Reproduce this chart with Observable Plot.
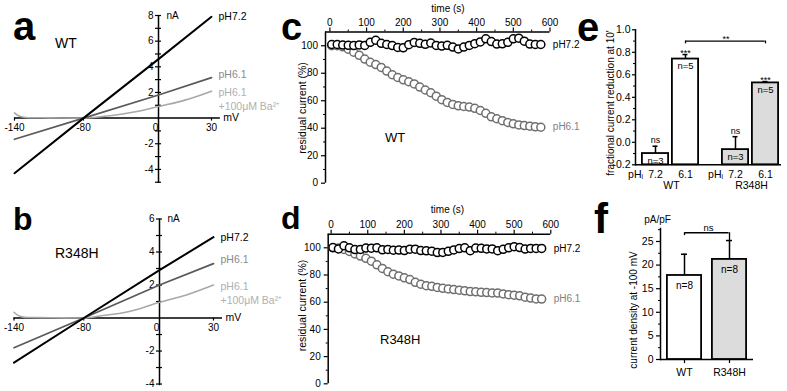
<!DOCTYPE html>
<html><head><meta charset="utf-8">
<script src="https://cdn.jsdelivr.net/npm/d3@7"></script>
<script src="https://cdn.jsdelivr.net/npm/@observablehq/plot@0.6"></script>
<style>
html,body{margin:0;padding:0;background:#fff;}
#fig{position:relative;width:787px;height:391px;overflow:hidden;background:#fff;font-family:'Liberation Sans',Arial,sans-serif;}
#fig svg{position:absolute;overflow:visible;background:transparent;max-width:none;}
</style></head><body><div id="fig"></div>
<script>
// ================= DATA =================
// Panels a / b : I-V relations (mV, nA)
const ivVoltage = [-140, -80, 0, 30];
const ivBaVoltage = [-140, -137, -133, -128, -110, -80, -60, -40, -20, 0, 15, 30];
const wtIV_pH72 = [-4.3, 0, 4.6, 7.9];
const wtIV_pH61 = [-1.65, 0, 1.8, 3.15];
const wtIV_Ba = [0.4, 0.2, 0.08, 0.03, 0.02, 0, 0.12, 0.3, 0.55, 0.9, 1.4, 2.1];
const r348hIV_pH72 = [-2.7, 0, 2.9, 4.9];
const r348hIV_pH61 = [-1.8, 0, 2.0, 3.3];
const r348hIV_Ba = [0.35, 0.18, 0.07, 0.03, 0.02, 0, 0.15, 0.3, 0.58, 0.95, 1.4, 2.0];
const ivXTickLabels = [-140, -80, 0, 30];
const wtIVYTickLabels = [8, 6, 4, 2, -2, -4];
const wtIVYTickMarks = [-5, -4, -3, -2, -1, 1, 2, 3, 4, 5, 6, 7, 8];
const r348hIVYTickLabels = [6, 4, 2, -2, -4];
const r348hIVYTickMarks = [-4, -3, -2, -1, 1, 2, 3, 4, 5, 6];

// Panels c / d : residual current time courses (s, %)
const tcTime = [5, 20, 35, 50, 65, 80, 95, 110, 125, 140, 155, 170, 185, 200, 215, 230, 245, 260, 275, 290,
  305, 320, 335, 350, 365, 380, 395, 410, 425, 440, 455, 470, 485, 500, 515, 530, 545, 560, 575];
const wtTC_pH72 = [100.9, 100.9, 100.5, 100.3, 100.1, 100.6, 100.2, 102.5, 104, 101.8, 100.9, 100.1, 98.8, 98.5, 100.8,
  102.4, 101.8, 101, 102, 100.2, 99.8, 100.3, 99, 97.7, 99, 100.2, 101.5, 102.8, 105, 103, 101.2, 101.4, 102.5, 105,
  105.5, 103.3, 101.2, 100.9, 100.9];
const wtTC_pH61 = [100, 100, 99.2, 97.5, 95.3, 93, 90.3, 88, 86.3, 84.2, 81.6, 78.9, 76.9, 75.2, 73.8, 72.2, 69.9, 67.8,
  65.8, 63.3, 60.8, 58.8, 57.3, 56.3, 55.8, 55.4, 54.5, 52.9, 50.8, 48.3, 46.9, 45.5, 44.2, 43.2, 42.4, 41.9, 41.5, 41, 40.7];
const r348hTC_pH72 = [100.2, 99.2, 101.5, 100, 98.7, 98.8, 99.8, 99.7, 100, 98.5, 98.8, 98.2, 98.3, 98, 99, 99, 98, 97.8,
  97.5, 96.5, 96.6, 97.4, 98.4, 99.4, 100, 97.9, 99.8, 99.6, 99.2, 99.2, 97.9, 98.9, 100, 100.8, 100.2, 99.1, 99.5, 99.5, 99.5];
const r348hTC_pH61 = [100, 99.8, 98.8, 97.3, 95.5, 93.9, 92.3, 90.2, 87.5, 84.8, 82.4, 80.6, 79.3, 77.9, 76.6, 74.6, 73.2,
  72.1, 71.7, 70.9, 70.2, 69.7, 69.3, 68.8, 68.4, 67.8, 67.6, 67.3, 67.1, 66.8, 66.7, 66.1, 65.5, 65.1, 64.7, 63.7, 63, 62.4, 62.3];
const tcTimeTicks = [0, 100, 200, 300, 400, 500, 600];
const tcTimeMinor = [50, 150, 250, 350, 450, 550];
const tcPctTicks = [0, 20, 40, 60, 80, 100];
const tcPctMinor = [10, 30, 50, 70, 90];

// Panel e : fractional current reduction at 10'
const eGenotype = ["WT", "WT", "R348H", "R348H"];
const ePH = ["7.2", "6.1", "7.2", "6.1"];
const eMean = [-0.10, 0.74, -0.065, 0.528];
const eErr = [0.065, 0.04, 0.115, 0.012];
const eN = ["n=3", "n=5", "n=3", "n=5"];
const eSig = ["ns", "***", "ns", "***"];
const eBracket = [{from: "WT 6.1", to: "R348H 6.1", y: 0.9, foot: 0.875, label: "**"}];
const eYTicks = [-0.2, 0, 0.2, 0.4, 0.6, 0.8, 1.0];
const eYMinor = [-0.1, 0.1, 0.3, 0.5, 0.7, 0.9];

// Panel f : current density at -100 mV
const fGenotype = ["WT", "R348H"];
const fMean = [17.8, 21.2];
const fErr = [4.5, 4.0];
const fN = ["n=8", "n=8"];
const fBracket = [{from: "WT", to: "R348H", y: 26.85, footFrom: 26.25, footTo: 25.2, label: "ns"}];
const fYTicks = [0, 5, 10, 15, 20, 25];
const fYMinor = [2.5, 7.5, 12.5, 17.5, 22.5, 27.5];

// ================= DRAWING =================
const FONT = "'Liberation Sans', Arial, Helvetica, sans-serif";
const fig = document.getElementById("fig");
function mount(svg, left, top) {
  svg.style.left = left + "px";
  svg.style.top = top + "px";
  svg.setAttribute("font-family", FONT);
  fig.appendChild(svg);
}

function ivPanel(o) {
  const rows = (xs, ys) => xs.map((v, i) => ({mV: v, nA: ys[i]}));
  const black = rows(ivVoltage, o.p72), dark = rows(ivVoltage, o.p61), light = rows(ivBaVoltage, o.ba);
  const last = (a) => [a[a.length - 1]];
  return Plot.plot({
    width: o.width, height: o.height, margin: 0,
    x: {type: "linear", domain: ivVoltage, range: o.xRange, axis: null},
    y: {type: "linear", domain: o.yDomain, range: o.yRange, axis: null},
    marks: [
      Plot.ruleY([0], {x1: -140, x2: 35, stroke: "#000", strokeWidth: 1.5}),
      Plot.ruleX([0], {y1: o.yDomain[0], y2: o.yDomain[1], stroke: "#000", strokeWidth: 1.5}),
      Plot.ruleY(o.yTickMarks, {x1: 0, x2: 0, insetLeft: -3, insetRight: -3, strokeWidth: 1.2}),
      Plot.ruleX(ivXTickLabels.filter(d => d !== 0), {y1: 0, y2: 0, insetBottom: -3, strokeWidth: 1.2}),
      Plot.text(o.yTickLabels, {x: 0, y: d => d, text: d => String(d), dx: -5, textAnchor: "end", fontSize: 10}),
      Plot.text(ivXTickLabels.filter(d => d !== 0), {x: d => d, y: 0, text: d => String(d), dy: 10, fontSize: 10}),
      Plot.text(ivXTickLabels.filter(d => d === 0), {x: d => d, y: 0, text: d => String(d), dy: 10, dx: -3, fontSize: 10}),
      Plot.text(["nA"], {x: 0, y: o.yDomain[1], text: d => d, dx: 8, textAnchor: "start", fontSize: 10}),
      Plot.text(["mV"], {x: 35, y: 0, text: d => d, dx: 3, textAnchor: "start", fontSize: 10.5}),
      Plot.line(light, {x: "mV", y: "nA", stroke: "#a8a8a8", strokeWidth: 1.6, curve: "monotone-x"}),
      Plot.line(dark, {x: "mV", y: "nA", stroke: "#5a5a5a", strokeWidth: 1.8}),
      Plot.line(black, {x: "mV", y: "nA", stroke: "#000", strokeWidth: 2}),
      Plot.text(last(black), {x: "mV", y: "nA", text: () => "pH7.2", dx: 7, textAnchor: "start", fontSize: 10.5, fill: "#000"}),
      Plot.text(last(dark), {x: "mV", y: "nA", text: () => "pH6.1", dx: 7, dy: -3.5, textAnchor: "start", fontSize: 10.5, fill: "#8a8a8a"}),
      Plot.text(last(light), {x: "mV", y: "nA", text: () => "pH6.1\n+100\u03bcM Ba\u00b2\u207a", dx: 7, dy: -4.4,
        lineAnchor: "top", lineHeight: 1.3, textAnchor: "start", fontSize: 10.5, fill: "#b0b0b0"})
    ]
  });
}

mount(ivPanel({width: 260, height: 195, xRange: [14, 83, 158, 211], yDomain: [-5.1, 8], yRange: [183, 15],
  yTickLabels: wtIVYTickLabels, yTickMarks: wtIVYTickMarks, p72: wtIV_pH72, p61: wtIV_pH61, ba: wtIV_Ba}), 0, 0);
mount(ivPanel({width: 260, height: 196, xRange: [13.5, 83.3, 159, 213], yDomain: [-4.1, 6], yRange: [190.2, 23.5],
  yTickLabels: r348hIVYTickLabels, yTickMarks: r348hIVYTickMarks, p72: r348hIV_pH72, p61: r348hIV_pH61, ba: r348hIV_Ba}), 0, 195);

function timePanel(o) {
  const gray = tcTime.map((t, i) => ({t, v: o.gray[i]}));
  const black = tcTime.map((t, i) => ({t, v: o.black[i]}));
  const x0 = o.xDomain[0];
  return Plot.plot({
    width: o.width, height: o.height, margin: 0,
    x: {domain: o.xDomain, range: o.xRange, axis: null},
    y: {domain: [0, 110], range: o.yRange, axis: null},
    marks: [
      Plot.ruleY([110], {x1: x0, x2: 600, strokeWidth: 1.5}),
      Plot.ruleX([x0], {y1: 0, y2: 110, strokeWidth: 1.5}),
      Plot.ruleX(tcTimeTicks, {y1: 110, y2: 110, insetTop: -4, strokeWidth: 1.2}),
      Plot.ruleX(tcTimeMinor, {y1: 110, y2: 110, insetTop: -2, strokeWidth: 1}),
      Plot.ruleY(tcPctTicks, {x1: x0, x2: x0, insetLeft: -4, strokeWidth: 1.2}),
      Plot.ruleY(tcPctMinor, {x1: x0, x2: x0, insetLeft: -2, strokeWidth: 1}),
      Plot.text(tcTimeTicks, {x: d => d, y: 110, dy: -9, text: d => String(d), fontSize: 10}),
      Plot.text(tcPctTicks, {x: x0, y: d => d, dx: -7.5, textAnchor: "end", text: d => String(d), fontSize: 10}),
      Plot.dot(gray, {x: "t", y: "v", r: 4, stroke: "#6e6e6e", fill: "#fff", strokeWidth: 1.5}),
      Plot.dot(black, {x: "t", y: "v", r: 4, stroke: "#000", fill: "#fff", strokeWidth: 1.5}),
      Plot.text([gray[gray.length - 1]], {x: "t", y: "v", text: () => "pH6.1", dx: 12, textAnchor: "start", fill: "#808080", fontSize: 10}),
      Plot.text([black[black.length - 1]], {x: "t", y: "v", text: () => "pH7.2", dx: 12, textAnchor: "start", fill: "#000", fontSize: 10})
    ]
  });
}

mount(timePanel({width: 340, height: 195, xDomain: [-12, 600], xRange: [65, 289.5], yRange: [182.7, 31.5],
  black: wtTC_pH72, gray: wtTC_pH61}), 260, 0);
mount(timePanel({width: 340, height: 196, xDomain: [-8, 600], xRange: [67.7, 290.3], yRange: [188.3, 38.7],
  black: r348hTC_pH72, gray: r348hTC_pH61}), 260, 195);

// Panel e
const eRows = eGenotype.map((g, i) => ({key: g + " " + ePH[i], g, pH: ePH[i], mean: eMean[i], top: eMean[i] + eErr[i], n: eN[i], sig: eSig[i]}));
const groupShift = {"WT": -10, "R348H": 10};
const groupFill = {"WT": "#ffffff", "R348H": "#dcdcdc"};
const eMarks = [
  Plot.frame({anchor: "left", strokeWidth: 1.5}),
  Plot.ruleY([-0.2], {strokeWidth: 1.5}),
  Plot.axisY(eYMinor, {tickSize: 2, tickFormat: () => "", label: null, strokeWidth: 1}),
  Plot.axisY(eYTicks, {tickSize: 3, tickPadding: 2, tickFormat: d => d.toFixed(1), label: null, fontSize: 10.5, strokeWidth: 1.2})
];
for (const g of ["WT", "R348H"]) {
  const rows = eRows.filter(d => d.g === g), dx = groupShift[g];
  eMarks.push(
    Plot.barY(rows, {x: "key", y1: -0.2, y2: "mean", fill: groupFill[g], stroke: "#000", strokeWidth: 1.8, insetLeft: 0.9, insetRight: 0.9, dx}),
    Plot.ruleX(rows, {x: "key", y1: "mean", y2: "top", strokeWidth: 1.5, dx}),
    Plot.tickY(rows, {x: "key", y: "top", insetLeft: 11.5, insetRight: 11.5, strokeWidth: 1.5, dx}),
    Plot.text(rows.filter(d => d.sig === "ns"), {x: "key", y: "top", text: "sig", dy: -6, fontSize: 9, dx}),
    Plot.text(rows.filter(d => d.sig !== "ns"), {x: "key", y: "top", text: "sig", dy: -1, fontSize: 9, dx}),
    Plot.text(rows, {x: "key", y: "mean", text: "n", dy: 7, fontSize: 9.5, dx}),
    Plot.text(rows, {x: "key", y: -0.2, text: "pH", dy: 10, fontSize: 10.5, dx}),
    Plot.text(rows.slice(0, 1), {x: "key", y: -0.2, text: () => "pH", dy: 10, dx: dx - 14, textAnchor: "end", fontSize: 10.5}),
    Plot.text(rows.slice(0, 1), {x: "key", y: -0.2, text: () => "i", dy: 12, dx: dx - 14, textAnchor: "start", fontSize: 7}),
    Plot.text(rows.slice(0, 1), {x: "key", y: -0.2, text: "g", dy: 21, dx: dx + 16, fontSize: 10.5})
  );
}
eMarks.push(
  Plot.ruleY(eBracket, {y: "y", x1: "from", x2: "to", insetLeft: 4.25, insetRight: 4.25, strokeWidth: 1.3}),
  Plot.ruleX(eBracket, {x: "from", y1: "foot", y2: "y", dx: -10, strokeWidth: 1.3}),
  Plot.ruleX(eBracket, {x: "to", y1: "foot", y2: "y", dx: 10, strokeWidth: 1.3}),
  Plot.text(eBracket, {x: "from", y: "y", text: "label", dx: 30.5, dy: -2, fontSize: 9})
);
mount(Plot.plot({
  width: 187, height: 195, marginLeft: 35, marginRight: 6, marginTop: 29.3, marginBottom: 30.7,
  x: {type: "band", domain: eRows.map(d => d.key), paddingInner: 0.065, paddingOuter: 0.426, align: 0.577, axis: null},
  y: {domain: [-0.2, 1.0], axis: null},
  marks: eMarks
}), 600, 0);

// Panel f
const fRows = fGenotype.map((g, i) => ({g, mean: fMean[i], top: fMean[i] + fErr[i], n: fN[i]}));
const fMarks = [
  Plot.frame({anchor: "left", strokeWidth: 1.5}),
  Plot.ruleY([0], {strokeWidth: 1.5}),
  Plot.axisY(fYMinor, {tickSize: 2, tickFormat: () => "", label: null, strokeWidth: 1}),
  Plot.axisY(fYTicks, {tickSize: 4, tickPadding: 3, label: null, fontSize: 10.5, strokeWidth: 1.2}),
  Plot.ruleX(fRows, {x: "g", y1: 0, y2: 0, insetBottom: -4, strokeWidth: 1.2}),
  Plot.text(fRows, {x: "g", y: 0, text: "g", dy: 13, fontSize: 10.5})
];
for (const g of fGenotype) {
  const rows = fRows.filter(d => d.g === g);
  fMarks.push(
    Plot.barY(rows, {x: "g", y1: 0, y2: "mean", fill: groupFill[g], stroke: "#000", strokeWidth: 1.8, insetLeft: 0.9, insetRight: 0.9}),
    Plot.ruleX(rows, {x: "g", y1: "mean", y2: "top", strokeWidth: 1.5}),
    Plot.tickY(rows, {x: "g", y: "top", insetLeft: 15, insetRight: 15, strokeWidth: 1.5}),
    Plot.text(rows, {x: "g", y: "mean", text: "n", dy: 10, fontSize: 10})
  );
}
fMarks.push(
  Plot.ruleY(fBracket, {y: "y", x1: "from", x2: "to", insetLeft: 18.4, insetRight: 18.4, strokeWidth: 1.3}),
  Plot.ruleX(fBracket, {x: "from", y1: "footFrom", y2: "y", strokeWidth: 1.3}),
  Plot.ruleX(fBracket, {x: "to", y1: "footTo", y2: "y", strokeWidth: 1.3}),
  Plot.text(fBracket, {x: "from", y: "y", text: "label", dx: 24, dy: -5, fontSize: 9.5})
);
mount(Plot.plot({
  width: 187, height: 196, marginLeft: 60, marginRight: 34, marginTop: 33, marginBottom: 32,
  x: {type: "band", domain: fGenotype, paddingInner: 0.19, paddingOuter: 0.12, axis: null},
  y: {domain: [0, 27.75], axis: null},
  marks: fMarks
}), 600, 195);

// Panel letters and free-standing titles
const annotations = [
  {text: "a", x: 13, y: 40, size: 40, weight: 700},
  {text: "b", x: 13, y: 230, size: 32, weight: 700},
  {text: "c", x: 281, y: 40, size: 38, weight: 700},
  {text: "d", x: 281, y: 229, size: 32, weight: 700},
  {text: "e", x: 577, y: 41, size: 40, weight: 700},
  {text: "f", x: 594, y: 233, size: 42, weight: 700},
  {text: "WT", x: 55, y: 48, size: 14},
  {text: "R348H", x: 55, y: 258, size: 14},
  {text: "WT", x: 385, y: 141.5, size: 13},
  {text: "R348H", x: 380, y: 343.5, size: 13},
  {text: "time (s)", x: 448, y: 11.5, size: 10, anchor: "middle"},
  {text: "time (s)", x: 447.5, y: 213, size: 10, anchor: "middle"},
  {text: "residual current (%)", x: 305.5, y: 108, size: 10.5, anchor: "middle", rotate: true},
  {text: "residual current (%)", x: 305.5, y: 305.5, size: 10.5, anchor: "middle", rotate: true},
  {text: "fractional current reduction at 10'", x: 613.5, y: 103, size: 10, anchor: "middle", rotate: true},
  {text: "current density at -100 mV", x: 637, y: 310, size: 10, anchor: "middle", rotate: true},
  {text: "pA/pF", x: 657.5, y: 222.5, size: 10, anchor: "middle"}
];
const overlay = d3.create("svg").attr("width", 787).attr("height", 391).attr("font-family", FONT)
  .style("left", "0px").style("top", "0px").style("pointer-events", "none");
for (const a of annotations) {
  overlay.append("text")
    .attr("transform", `translate(${a.x},${a.y})` + (a.rotate ? " rotate(-90)" : ""))
    .attr("text-anchor", a.anchor || "start")
    .attr("font-size", a.size)
    .attr("font-weight", a.weight || 400)
    .attr("fill", "#000")
    .text(a.text);
}
fig.appendChild(overlay.node());
</script></body></html>
